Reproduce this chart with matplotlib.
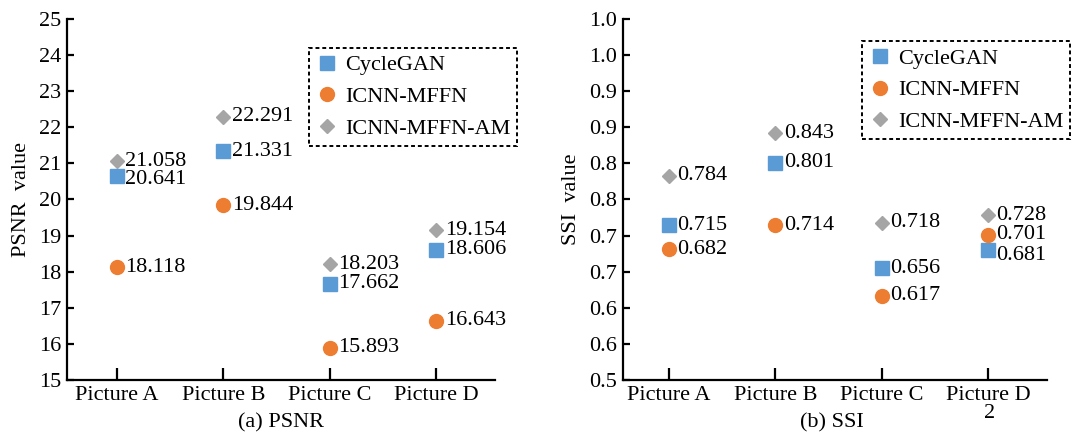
import matplotlib
matplotlib.use("Agg")
import matplotlib.pyplot as plt
import numpy as np

plt.rcParams['font.family'] = ['Liberation Serif', 'DejaVu Serif']
plt.rcParams['font.size'] = 16

# --- data ---
pictures = ['Picture A', 'Picture B', 'Picture C', 'Picture D']
series = ['CycleGAN', 'ICNN-MFFN', 'ICNN-MFFN-AM']

psnr_cyclegan = [20.641, 21.331, 17.662, 18.606]
psnr_mffn = [18.118, 19.844, 15.893, 16.643]
psnr_mffn_am = [21.058, 22.291, 18.203, 19.154]

ssi_cyclegan = [0.715, 0.801, 0.656, 0.681]
ssi_mffn = [0.682, 0.714, 0.617, 0.701]
ssi_mffn_am = [0.784, 0.843, 0.718, 0.728]
# plotted positions of the SSI points (labels in the source differ slightly)
ssi_cyclegan_pos = [0.714, 0.801, 0.655, 0.680]
ssi_mffn_pos = [0.681, 0.714, 0.617, 0.701]
ssi_mffn_am_pos = [0.783, 0.842, 0.718, 0.728]

psnr_ticks = list(range(15, 26))
ssi_ticks = [0.5, 0.55, 0.6, 0.65, 0.7, 0.75, 0.8, 0.85, 0.9, 0.95, 1.0]
ssi_tick_labels = ['0.5', '0.6', '0.6', '0.7', '0.7', '0.8', '0.8', '0.9', '0.9', '1.0', '1.0']

colors = ['#5B9BD5', '#ED7D31', '#A5A5A5']
markers = ['s', 'o', 'D']
msizes = [9.5, 10, 7]

W, H = 1078, 436
fig = plt.figure(figsize=(W / 100, H / 100), dpi=100)

ax1 = fig.add_axes([66.7 / W, 56 / H, 428.3 / W, 361 / H])
ax2 = fig.add_axes([622.7 / W, 56 / H, 424.3 / W, 361 / H])

x = np.arange(len(pictures))


def draw(ax, ys, labels, fmt, nudges, dx=6):
    for i, (y, lab) in enumerate(zip(ys, labels)):
        ax.plot(x, y, linestyle='none', marker=markers[i], color=colors[i],
                markersize=msizes[i], label=series[i], clip_on=False)
        for j in range(len(x)):
            dy = nudges.get((i, j), 0)
            ax.annotate(fmt.format(lab[j]), (x[j], y[j]), xytext=(dx, dy),
                        textcoords='offset points', va='center', ha='left')


def style(ax):
    for s in ['top', 'right']:
        ax.spines[s].set_visible(False)
    for s in ['left', 'bottom']:
        ax.spines[s].set_linewidth(1.6)
    ax.tick_params(axis='x', direction='in', length=9, width=1.6, pad=4)
    ax.tick_params(axis='y', direction='in', length=5, width=1.6, pad=4)
    ax.set_xticks(x)
    ax.set_xticklabels(pictures)


def add_legend(ax, left, top):
    leg = ax.legend(loc='upper left', bbox_to_anchor=(left / W, 1 - top / H),
                    bbox_transform=fig.transFigure, fancybox=False,
                    edgecolor='black', framealpha=1, handlelength=1.0,
                    handletextpad=0.3, labelspacing=0.5, borderpad=0.32,
                    borderaxespad=0)
    leg.get_frame().set_linestyle((0, (2, 1.5)))
    leg.get_frame().set_linewidth(1.4)


# (a) PSNR
draw(ax1, [psnr_cyclegan, psnr_mffn, psnr_mffn_am],
     [psnr_cyclegan, psnr_mffn, psnr_mffn_am], '{:.3f}', {(0, 0): -2})
style(ax1)
ax1.set_xlim(-0.47, 3.55)
ax1.set_ylim(15, 25)
ax1.set_yticks(psnr_ticks)
ax1.set_ylabel('PSNR  value', labelpad=6)
add_legend(ax1, 309, 47.7)

# (b) SSI
draw(ax2, [ssi_cyclegan_pos, ssi_mffn_pos, ssi_mffn_am_pos],
     [ssi_cyclegan, ssi_mffn, ssi_mffn_am], '{:.3f}', {(0, 3): -4})
style(ax2)
ax2.set_xlim(-0.435, 3.553)
ax2.set_ylim(0.5, 1.0)
ax2.set_yticks(ssi_ticks)
ax2.set_yticklabels(ssi_tick_labels)
ax2.set_ylabel('SSI  value', labelpad=6)
add_legend(ax2, 862, 41)

fig.text(281 / W, 1 - 423 / H, '(a) PSNR', ha='center', va='center')
fig.text(832 / W, 1 - 423 / H, '(b) SSI', ha='center', va='center')
fig.text(990 / W, 1 - 413 / H, '2', ha='center', va='center')

fig.savefig('out.png', dpi=100)
